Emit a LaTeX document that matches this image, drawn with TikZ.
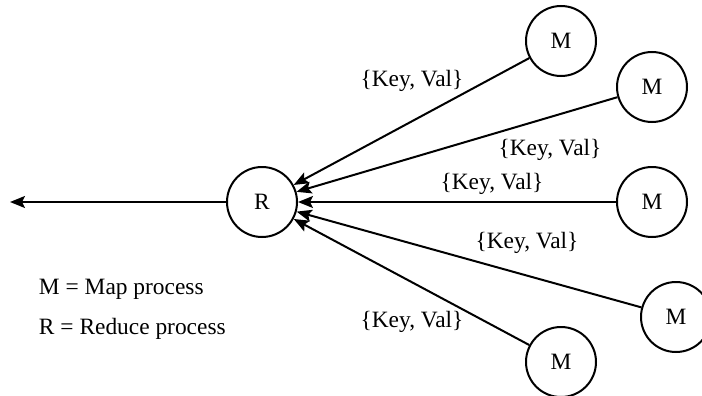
\documentclass[tikz,border=0pt]{standalone}
\usepackage{fontspec}
\setmainfont{Liberation Serif}
\usepackage{tikz}
\usetikzlibrary{arrows.meta}
\tikzset{
	every path/.style={line width=1pt},
	proc/.style={
		draw,
		circle,
		minimum size=35pt,
		inner sep=0pt,
	},
	kv/.style={
		inner sep=0pt,
	},
	legend/.style={
		anchor=west,
		inner sep=0pt,
	},
	flow/.style={
		-{Stealth[length=7.5pt,width=6pt,inset=1.5pt]}
	},
}

\begin{document}
\begin{tikzpicture}[x=0.5pt,y=-0.5pt,font=\fontsize{11.7}{14}\selectfont]
		\useasboundingbox (0,0) rectangle (702,396);

		\node[proc] 				(red) at (262,202) {R};
		\coordinate 				(out) at (10,202);

		\node[proc] 				(map1) at (561,41) {M};
		\node[proc] 				(map2) at (652,87) {M};
		\node[proc] 				(map3) at (652,202) {M};
		\node[proc] 				(map4) at (676,317) {M};
		\node[proc] 				(map5) at (561,362) {M};

		\draw[flow] 				(red) -- (out);
		\draw[flow] 				(map1) -- (red);
		\draw[flow] 				(map2) -- (red);
		\draw[flow] 				(map3) -- (red);
		\draw[flow] 				(map4) -- (red);
		\draw[flow] 				(map5) -- (red);

%*********

		\node[kv] 					(kv1) at (412,81) {\{Key, Val\}};
		\node[kv] 					(kv2) at (550,150) {\{Key, Val\}};
		\node[kv] 					(kv3) at (492,184) {\{Key, Val\}};
		\node[kv] 					(kv4) at (527,243) {\{Key, Val\}};
		\node[kv] 					(kv5) at (412,322) {\{Key, Val\}};

		\node[legend] 			(lm) at (38,289) {M = Map process};
		\node[legend] 			(lr) at (38,329) {R = Reduce process};

	\end{tikzpicture}
\end{document}
